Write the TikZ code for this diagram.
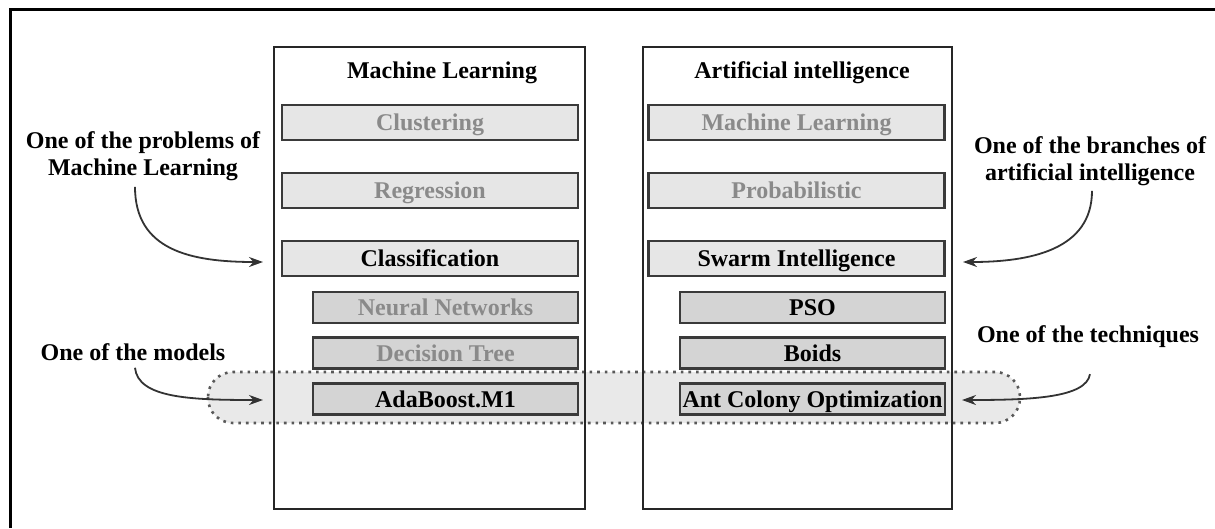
\documentclass[tikz,border=0pt]{standalone}
\usepackage{fontspec}
\setmainfont{Liberation Serif}
\usetikzlibrary{arrows.meta}
\definecolor{boxline}{HTML}{3A3A3A}
\definecolor{fillA}{HTML}{E6E6E6}
\definecolor{fillB}{HTML}{D4D4D4}
\definecolor{fadetext}{HTML}{8A8A8A}
\definecolor{bandfill}{HTML}{E9E9E9}
\definecolor{arrowcol}{HTML}{333333}
\tikzset{
  panel/.style={draw=black!85, line width=2.2pt},
  bigbox/.style={draw=boxline, line width=2.2pt, fill=fillA, minimum width=296pt, minimum height=35pt, inner sep=0pt, text height=16pt, text depth=0pt, font=\fontsize{24}{28}\selectfont\bfseries},
  smallbox/.style={draw=boxline, line width=2.2pt, fill=fillB, minimum width=265pt, minimum height=31pt, inner sep=0pt, text height=16pt, text depth=0pt, font=\fontsize{24}{28}\selectfont\bfseries},
  faded/.style={text=fadetext},
  dark/.style={text=black},
  lbl/.style={font=\fontsize{24}{27}\selectfont\bfseries, align=center, inner sep=0pt},
  ttl/.style={font=\fontsize{24}{28}\selectfont\bfseries, inner sep=0pt},
  pointer/.style={draw=arrowcol, line width=1.8pt, -{Stealth[length=14pt,width=10pt]}},
  band/.style={draw=black!65, fill=bandfill, line width=2.6pt, dash pattern=on 2.6pt off 5pt, rounded corners=25pt}
}
\begin{document}
\begin{tikzpicture}[x=1pt,y=-1pt]
\useasboundingbox (0,0) rectangle (1215,528);
% outer frame
\draw[line width=3pt, black] (10,528) -- (10,9) -- (1215,9);
% panels (fill)
\fill[white] (274,47) rectangle (585,509);
\fill[white] (643,47) rectangle (952,509);
% band
\draw[band] (208,372) rectangle (1020,423);
% panel borders
\draw[panel] (274,47) rectangle (585,509);
\draw[panel] (643,47) rectangle (952,509);
% titles
\node[ttl] (tml) at (442,73) {Machine Learning};
\node[ttl] (tai) at (802,73) {Artificial intelligence};
% left boxes
\node[bigbox, faded] (clu) at (430,122.5) {Clustering};
\node[bigbox, faded] (reg) at (430,190.5) {Regression};
\node[bigbox, dark] (cla) at (430,258.5) {Classification};
\node[smallbox, faded] (nn) at (445.5,307.5) {Neural Networks};
\node[smallbox, faded] (dt) at (445.5,353) {Decision Tree};
\node[smallbox, dark] (ada) at (445.5,399) {AdaBoost.M1};
% right boxes
\node[bigbox, faded] (mlr) at (796.5,122.5) {Machine Learning};
\node[bigbox, faded] (pro) at (796.5,190.5) {Probabilistic};
\node[bigbox, dark] (swa) at (796.5,258.5) {Swarm Intelligence};
\node[smallbox, dark] (pso) at (812.5,307.5) {PSO};
\node[smallbox, dark] (boi) at (812.5,353) {Boids};
\node[smallbox, dark] (aco) at (812.5,399) {Ant Colony Optimization};
% labels
\node[lbl] (lp) at (143,156) {One of the problems of\\Machine Learning};
\node[lbl] (lb) at (1090,161) {One of the branches of\\artificial intelligence};
\node[lbl] (lm) at (133,352) {One of the models};
\node[lbl] (lt) at (1088,337) {One of the techniques};
% arrow ends
\coordinate (e1) at (263,262);
\coordinate (e2) at (963,262);
\coordinate (e3) at (263,400);
\coordinate (e4) at (962,400);
% arrows
\draw[pointer] ([xshift=-8pt,yshift=-6pt]lp.south) .. controls (135,250) and (190,262) .. (e1);
\draw[pointer] ([xshift=2pt,yshift=-5pt]lb.south) .. controls (1092,250) and (1030,262) .. (e2);
\draw[pointer] ([xshift=2pt,yshift=-7pt]lm.south) .. controls (138,398) and (190,400) .. (e3);
\draw[pointer] ([xshift=2pt,yshift=-26pt]lt.south) .. controls (1086,398) and (1030,400) .. (e4);
\end{tikzpicture}
\end{document}
